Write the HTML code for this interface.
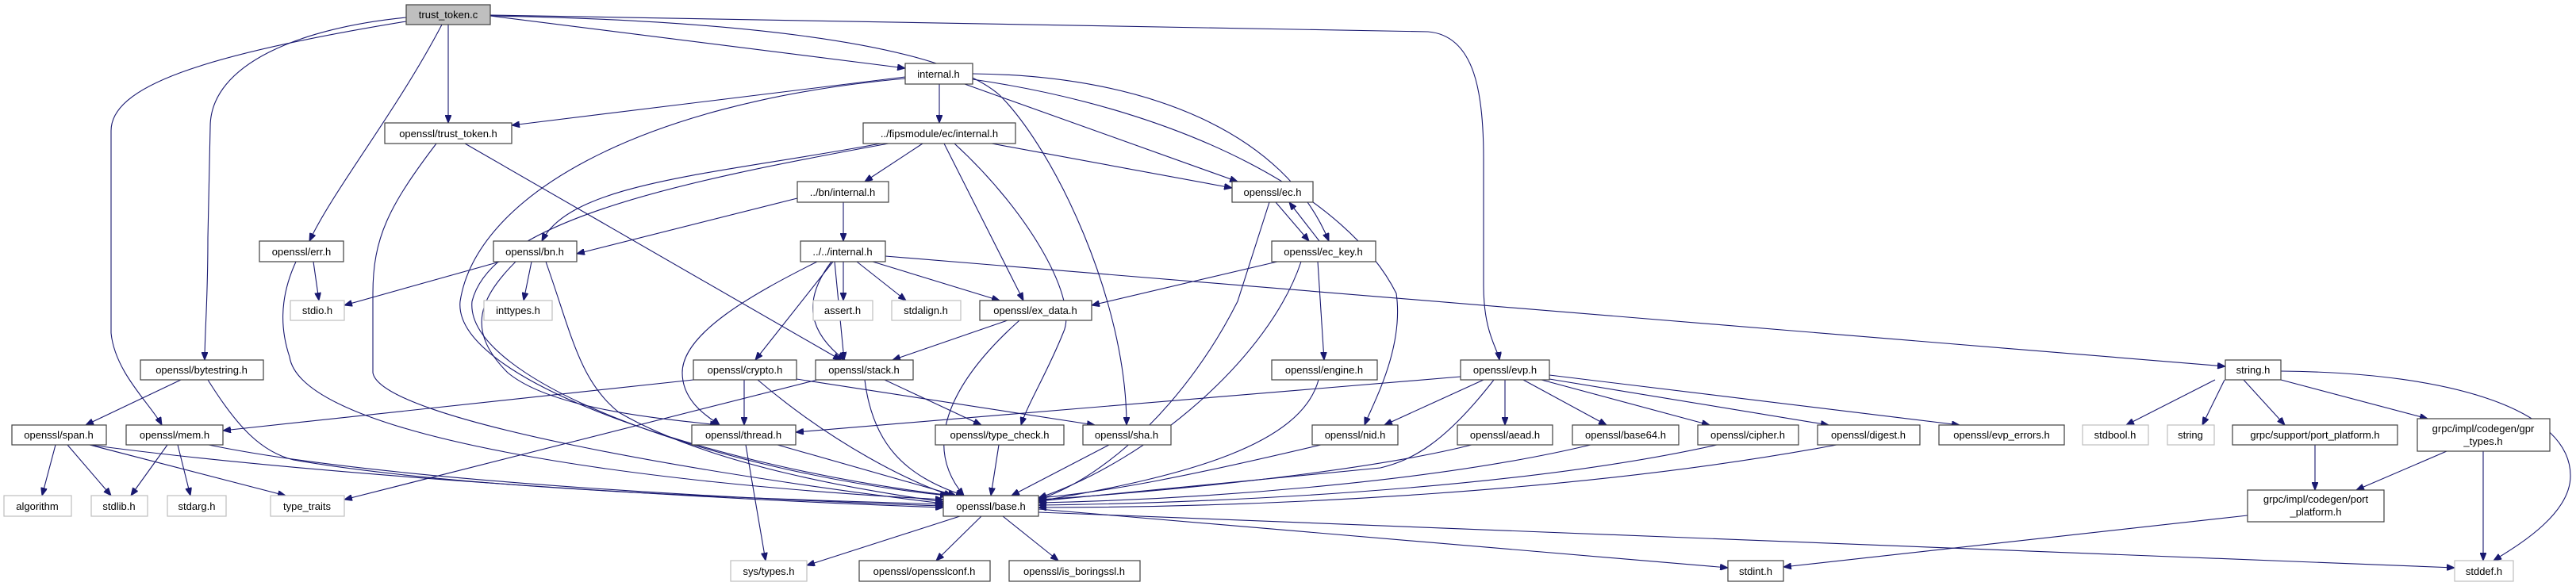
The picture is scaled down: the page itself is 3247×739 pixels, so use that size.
<!DOCTYPE html>
<html><head><meta charset="utf-8"><style>
html,body{margin:0;padding:0;background:#fff;}
svg{display:block;}
text{font-family:"Liberation Sans","DejaVu Sans",sans-serif;font-size:13px;fill:#000;text-anchor:middle;}
.e{fill:none;stroke:#191970;stroke-width:1.1;marker-end:url(#ah);}
.n{fill:#fff;stroke:#404040;stroke-width:1.2;}
.g{fill:#fff;stroke:#bfbfbf;stroke-width:1.2;}
</style></head><body>
<svg width="3247" height="739" viewBox="0 0 3247 739" xmlns="http://www.w3.org/2000/svg">
<defs><marker id="ah" markerWidth="10" markerHeight="8" refX="10" refY="4" orient="auto" markerUnits="userSpaceOnUse"><path d="M0,0 L10,4 L0,8 z" fill="#191970" stroke="#191970"/></marker></defs>
<g>
<path class="e" d="M618,20 L1141,86"/>
<path class="e" d="M565,31 L565,155"/>
<path class="e" d="M557,31 C500,140 420,240 390,304"/>
<path class="e" d="M512,22 C380,35 265,80 265,160 L262,300 C262,380 258,420 258,454"/>
<path class="e" d="M512,27 C250,70 140,110 140,165 L140,420 C145,470 190,510 204,536"/>
<path class="e" d="M618,20 C900,25 1180,50 1260,120 C1330,190 1420,380 1420,536"/>
<path class="e" d="M618,19 L1800,40 C1860,45 1870,120 1870,200 L1870,360 C1870,420 1888,440 1890,454"/>
<path class="e" d="M1141,97 L645,158"/>
<path class="e" d="M1184,106 L1184,155"/>
<path class="e" d="M1141,99 C800,130 600,250 580,380 C570,480 900,590 1200,625"/>
<path class="e" d="M1216,106 L1560,229"/>
<path class="e" d="M1226,93 C1450,95 1620,170 1675,304"/>
<path class="e" d="M1226,100 C1500,140 1700,250 1760,370 C1770,440 1730,510 1720,536"/>
<path class="e" d="M550,181 C490,260 470,300 470,370 L470,470 C480,530 900,600 1189,635"/>
<path class="e" d="M586,181 L1060,454"/>
<path class="e" d="M1163,181 L1090,229"/>
<path class="e" d="M1110,181 C900,220 720,230 683,304"/>
<path class="e" d="M1120,181 C850,230 620,280 595,380 C585,480 900,595 1195,625"/>
<path class="e" d="M1190,181 L1290,379"/>
<path class="e" d="M1250,181 L1553,237"/>
<path class="e" d="M1203,181 C1300,270 1360,380 1340,420 C1320,470 1295,510 1287,536"/>
<path class="e" d="M1005,250 L727,320"/>
<path class="e" d="M1063,255 L1063,304"/>
<path class="e" d="M1600,255 L1560,380 C1500,500 1400,600 1309,630"/>
<path class="e" d="M1608,255 L1650,304"/>
<path class="e" d="M1663,304 L1625,255"/>
<path class="e" d="M1610,330 L1376,385"/>
<path class="e" d="M1661,330 L1669,454"/>
<path class="e" d="M1640,330 C1600,450 1450,580 1309,628"/>
<path class="e" d="M395,330 L402,379"/>
<path class="e" d="M373,330 C350,380 355,420 365,450 C380,550 800,610 1189,630"/>
<path class="e" d="M630,330 L434,385"/>
<path class="e" d="M670,330 L660,379"/>
<path class="e" d="M650,330 C600,380 590,420 640,470 C700,520 860,530 905,536"/>
<path class="e" d="M688,330 C720,420 730,480 780,520 C900,590 1100,620 1189,633"/>
<path class="e" d="M1050,330 L952,454"/>
<path class="e" d="M1030,330 C950,370 860,420 860,470 C860,510 900,530 907,536"/>
<path class="e" d="M1048,330 C1010,380 1020,420 1065,454"/>
<path class="e" d="M1052,330 L1064,454"/>
<path class="e" d="M1063,330 L1063,379"/>
<path class="e" d="M1080,330 L1142,379"/>
<path class="e" d="M1100,330 L1260,379"/>
<path class="e" d="M1116,323 L2805,462"/>
<path class="e" d="M1270,404 L1125,454"/>
<path class="e" d="M1285,404 C1200,480 1160,560 1215,625"/>
<path class="e" d="M228,479 L108,536"/>
<path class="e" d="M262,479 C300,540 330,570 370,580 C600,620 1000,630 1189,636"/>
<path class="e" d="M938,479 L938,536"/>
<path class="e" d="M874,479 L281,543"/>
<path class="e" d="M955,479 C1050,560 1150,610 1200,625"/>
<path class="e" d="M1004,478 L1380,536"/>
<path class="e" d="M1115,479 L1237,536"/>
<path class="e" d="M1090,479 C1100,560 1140,600 1215,625"/>
<path class="e" d="M1030,479 L434,630"/>
<path class="e" d="M1662,479 C1640,560 1500,600 1309,632"/>
<path class="e" d="M1841,475 L1003,545"/>
<path class="e" d="M1870,479 L1745,536"/>
<path class="e" d="M1883,479 C1820,560 1780,580 1740,590 L1309,632"/>
<path class="e" d="M1897,479 L1897,536"/>
<path class="e" d="M1920,479 L2025,536"/>
<path class="e" d="M1943,479 L2155,536"/>
<path class="e" d="M1953,478 L2305,536"/>
<path class="e" d="M1953,473 L2470,536"/>
<path class="e" d="M2792,479 L2680,536"/>
<path class="e" d="M2804,479 L2776,536"/>
<path class="e" d="M2828,479 L2880,536"/>
<path class="e" d="M2875,479 L3060,528"/>
<path class="e" d="M2875,468 C3100,470 3240,520 3240,600 C3240,650 3170,690 3143,707"/>
<path class="e" d="M70,561 L53,625"/>
<path class="e" d="M85,561 L140,625"/>
<path class="e" d="M113,561 L360,625"/>
<path class="e" d="M113,561 C400,600 900,630 1189,640"/>
<path class="e" d="M211,561 L165,625"/>
<path class="e" d="M224,561 L240,625"/>
<path class="e" d="M263,561 C500,610 1000,632 1189,638"/>
<path class="e" d="M940,561 L965,707"/>
<path class="e" d="M980,561 L1205,625"/>
<path class="e" d="M1259,561 L1249,625"/>
<path class="e" d="M1398,561 L1275,625"/>
<path class="e" d="M1665,561 C1500,600 1400,620 1309,628"/>
<path class="e" d="M1855,561 C1700,600 1400,625 1309,630"/>
<path class="e" d="M2005,561 C1800,610 1500,630 1309,634"/>
<path class="e" d="M2164,561 C1900,620 1500,635 1309,637"/>
<path class="e" d="M2315,561 C2000,620 1600,640 1309,640"/>
<path class="e" d="M1210,651 L1017,713"/>
<path class="e" d="M1237,651 L1180,707"/>
<path class="e" d="M1264,651 L1334,707"/>
<path class="e" d="M1309,642 L2178,716"/>
<path class="e" d="M1309,646 L3094,716"/>
<path class="e" d="M2918,561 L2918,618"/>
<path class="e" d="M3084,569 L2970,618"/>
<path class="e" d="M3130,569 L3130,707"/>
<path class="e" d="M2833,650 L2248,715"/>
</g>
<g>
<rect x="512" y="6" width="106" height="25" fill="#bfbfbf" stroke="#404040" stroke-width="1.2"/><text x="565" y="23">trust_token.c</text>
<rect class="n" x="1141" y="80" width="85" height="26"/><text x="1183" y="98">internal.h</text>
<rect class="n" x="485" y="155" width="160" height="26"/><text x="565" y="173">openssl/trust_token.h</text>
<rect class="n" x="1088" y="155" width="192" height="26"/><text x="1184" y="173">../fipsmodule/ec/internal.h</text>
<rect class="n" x="1005" y="229" width="115" height="26"/><text x="1062" y="247">../bn/internal.h</text>
<rect class="n" x="1553" y="229" width="102" height="26"/><text x="1604" y="247">openssl/ec.h</text>
<rect class="n" x="327" y="304" width="106" height="26"/><text x="380" y="322">openssl/err.h</text>
<rect class="n" x="622" y="304" width="105" height="26"/><text x="674" y="322">openssl/bn.h</text>
<rect class="n" x="1009" y="304" width="107" height="26"/><text x="1062" y="322">../../internal.h</text>
<rect class="n" x="1603" y="304" width="131" height="26"/><text x="1668" y="322">openssl/ec_key.h</text>
<rect class="g" x="366" y="379" width="68" height="25"/><text x="400" y="396">stdio.h</text>
<rect class="g" x="610" y="379" width="86" height="25"/><text x="653" y="396">inttypes.h</text>
<rect class="g" x="1025" y="379" width="75" height="25"/><text x="1062" y="396">assert.h</text>
<rect class="g" x="1124" y="379" width="87" height="25"/><text x="1167" y="396">stdalign.h</text>
<rect class="n" x="1235" y="379" width="141" height="25"/><text x="1305" y="396">openssl/ex_data.h</text>
<rect class="n" x="177" y="454" width="155" height="25"/><text x="254" y="471">openssl/bytestring.h</text>
<rect class="n" x="874" y="454" width="130" height="25"/><text x="939" y="471">openssl/crypto.h</text>
<rect class="n" x="1028" y="454" width="123" height="25"/><text x="1089" y="471">openssl/stack.h</text>
<rect class="n" x="1603" y="454" width="133" height="25"/><text x="1669" y="471">openssl/engine.h</text>
<rect class="n" x="1841" y="454" width="112" height="25"/><text x="1897" y="471">openssl/evp.h</text>
<rect class="n" x="2805" y="454" width="70" height="25"/><text x="2840" y="471">string.h</text>
<rect class="n" x="15" y="536" width="119" height="25"/><text x="74" y="553">openssl/span.h</text>
<rect class="n" x="159" y="536" width="122" height="25"/><text x="220" y="553">openssl/mem.h</text>
<rect class="n" x="872" y="536" width="131" height="25"/><text x="937" y="553">openssl/thread.h</text>
<rect class="n" x="1179" y="536" width="162" height="25"/><text x="1260" y="553">openssl/type_check.h</text>
<rect class="n" x="1365" y="536" width="111" height="25"/><text x="1420" y="553">openssl/sha.h</text>
<rect class="n" x="1654" y="536" width="108" height="25"/><text x="1708" y="553">openssl/nid.h</text>
<rect class="n" x="1837" y="536" width="120" height="25"/><text x="1897" y="553">openssl/aead.h</text>
<rect class="n" x="1982" y="536" width="134" height="25"/><text x="2049" y="553">openssl/base64.h</text>
<rect class="n" x="2140" y="536" width="127" height="25"/><text x="2203" y="553">openssl/cipher.h</text>
<rect class="n" x="2291" y="536" width="129" height="25"/><text x="2355" y="553">openssl/digest.h</text>
<rect class="n" x="2444" y="536" width="158" height="25"/><text x="2523" y="553">openssl/evp_errors.h</text>
<rect class="g" x="2625" y="536" width="83" height="25"/><text x="2666" y="553">stdbool.h</text>
<rect class="g" x="2732" y="536" width="59" height="25"/><text x="2761" y="553">string</text>
<rect class="n" x="2814" y="536" width="208" height="25"/><text x="2918" y="553">grpc/support/port_platform.h</text>
<rect class="n" x="3047" y="528" width="167" height="41"/><text x="3130" y="545">grpc/impl/codegen/gpr</text><text x="3130" y="561">_types.h</text>
<rect class="g" x="5" y="625" width="85" height="26"/><text x="47" y="643">algorithm</text>
<rect class="g" x="115" y="625" width="71" height="26"/><text x="150" y="643">stdlib.h</text>
<rect class="g" x="211" y="625" width="74" height="26"/><text x="248" y="643">stdarg.h</text>
<rect class="g" x="341" y="625" width="93" height="26"/><text x="387" y="643">type_traits</text>
<rect class="n" x="1189" y="625" width="120" height="26"/><text x="1249" y="643">openssl/base.h</text>
<rect class="n" x="2833" y="618" width="172" height="40"/><text x="2919" y="634">grpc/impl/codegen/port</text><text x="2919" y="650">_platform.h</text>
<rect class="g" x="921" y="707" width="96" height="26"/><text x="969" y="725">sys/types.h</text>
<rect class="n" x="1083" y="707" width="165" height="26"/><text x="1165" y="725">openssl/opensslconf.h</text>
<rect class="n" x="1272" y="707" width="165" height="26"/><text x="1354" y="725">openssl/is_boringssl.h</text>
<rect class="n" x="2178" y="707" width="70" height="26"/><text x="2213" y="725">stdint.h</text>
<rect class="g" x="3094" y="707" width="74" height="26"/><text x="3131" y="725">stddef.h</text>
</g>
</svg>
</body></html>
